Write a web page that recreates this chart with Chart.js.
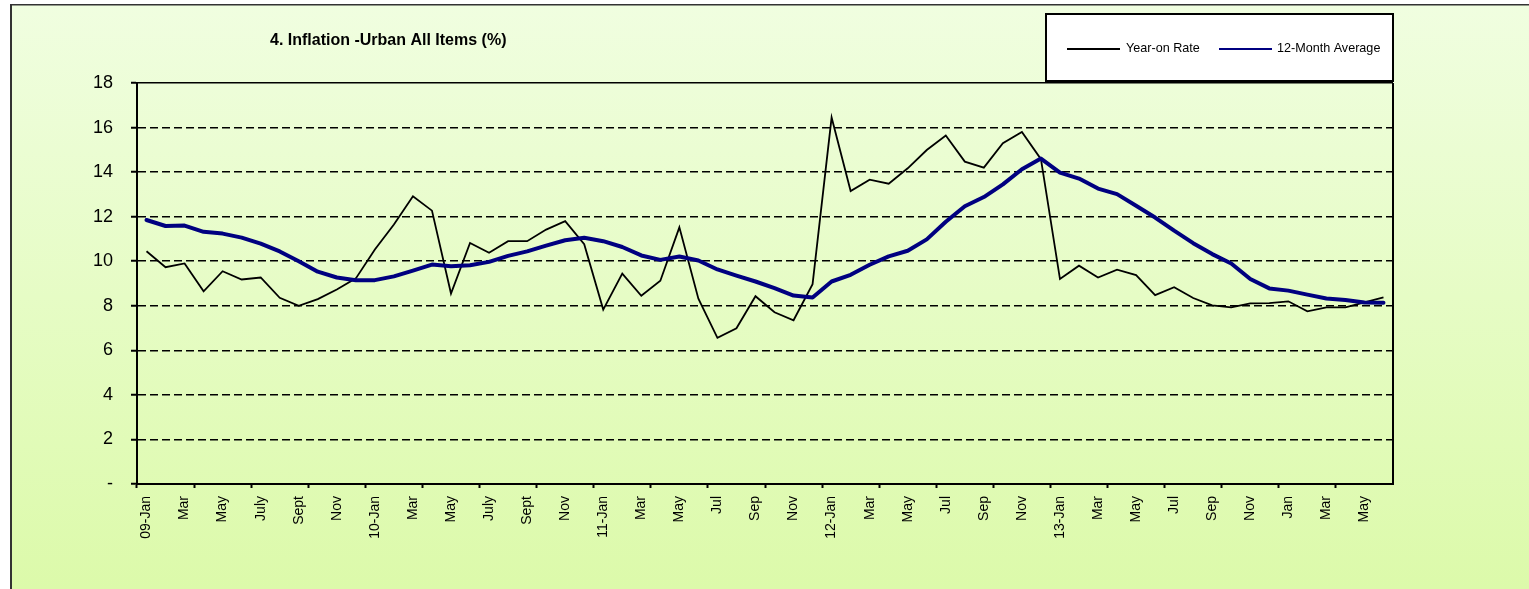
<!DOCTYPE html>
<html>
<head>
<meta charset="utf-8">
<script src="https://cdn.jsdelivr.net/npm/chart.js@4.4.1/dist/chart.umd.min.js"></script>
<style>
html,body{margin:0;padding:0;background:#fff;}
#c{display:block;}
</style>
</head>
<body>
<canvas id="c" width="1529" height="589" style="width:1529px;height:589px"></canvas>
<script>
// ---- data ----
const categories = [
  '09-Jan','Feb','Mar','Apr','May','Jun','July','Aug','Sept','Oct','Nov','Dec',
  '10-Jan','Feb','Mar','Apr','May','Jun','July','Aug','Sept','Oct','Nov','Dec',
  '11-Jan','Feb','Mar','Apr','May','Jun','Jul','Aug','Sep','Oct','Nov','Dec',
  '12-Jan','Feb','Mar','Apr','May','Jun','Jul','Aug','Sep','Oct','Nov','Dec',
  '13-Jan','Feb','Mar','Apr','May','Jun','Jul','Aug','Sep','Oct','Nov','Dec',
  'Jan','Feb','Mar','Apr','May','Jun'
];
const yearOnRate = [
  10.45, 9.73, 9.90, 8.65, 9.55, 9.18, 9.27, 8.36, 8.00, 8.30, 8.73, 9.23,
  10.53, 11.65, 12.92, 12.27, 8.55, 10.82, 10.38, 10.90, 10.90, 11.42, 11.80, 10.76,
  7.83, 9.44, 8.45, 9.12, 11.52, 8.32, 6.56, 6.99, 8.43, 7.71, 7.35, 8.97,
  16.45, 13.15, 13.66, 13.48, 14.17, 14.99, 15.64, 14.47, 14.20, 15.30, 15.80, 14.58,
  9.20, 9.80, 9.27, 9.62, 9.38, 8.48, 8.83, 8.35, 8.02, 7.93, 8.11, 8.12,
  8.20, 7.75, 7.93, 7.93, 8.15, 8.38
];
const twelveMonthAvg = [
  11.85, 11.58, 11.60, 11.32, 11.24, 11.06, 10.79, 10.44, 10.00, 9.53, 9.27, 9.15,
  9.15, 9.32, 9.58, 9.85, 9.77, 9.82, 9.97, 10.24, 10.44, 10.70, 10.94, 11.05,
  10.90, 10.64, 10.26, 10.06, 10.21, 10.03, 9.63, 9.35, 9.09, 8.79, 8.46, 8.37,
  9.09, 9.39, 9.84, 10.22, 10.47, 10.98, 11.77, 12.47, 12.88, 13.45, 14.13, 14.61,
  13.98, 13.71, 13.26, 13.01, 12.49, 11.96, 11.37, 10.81, 10.32, 9.90, 9.20, 8.78,
  8.68, 8.50, 8.33, 8.26, 8.15, 8.14
];
const yTicks = [0, 2, 4, 6, 8, 10, 12, 14, 16, 18];
const titleText = '4. Inflation -Urban All Items (%)';
const seriesNames = ['Year-on Rate', '12-Month Average'];

const FONT = 'Arial, "Liberation Sans", sans-serif';

const framePlugin = {
  id: 'frame',
  beforeDraw(chart) {
    const ctx = chart.ctx;
    ctx.save();
    ctx.fillStyle = '#ffffff';
    ctx.fillRect(0, 0, chart.width, chart.height);
    const g = ctx.createLinearGradient(0, 4, 0, chart.height);
    g.addColorStop(0, '#f0fee0');
    g.addColorStop(1, '#dcfaaa');
    ctx.fillStyle = g;
    ctx.fillRect(10, 4, chart.width - 10, chart.height - 4);
    ctx.fillStyle = '#333333';
    ctx.fillRect(10, 4, 2, chart.height - 4);
    ctx.fillRect(10, 4, chart.width - 10, 1.5);
    ctx.restore();
  },
  afterDraw(chart) {
    const ctx = chart.ctx;
    const a = chart.chartArea;
    ctx.save();
    // right border of plot area
    ctx.strokeStyle = '#000';
    ctx.lineWidth = 2;
    ctx.beginPath();
    ctx.moveTo(a.right, a.top);
    ctx.lineTo(a.right, a.bottom);
    ctx.stroke();
    // title
    ctx.fillStyle = '#000';
    ctx.font = 'bold 16px ' + FONT;
    ctx.textAlign = 'left';
    ctx.textBaseline = 'middle';
    ctx.fillText(titleText, 270, 41);
    // legend box
    ctx.fillStyle = '#ffffff';
    ctx.fillRect(1046, 14, 347, 67);
    ctx.strokeStyle = '#000';
    ctx.lineWidth = 2;
    ctx.strokeRect(1046, 14, 347, 67);
    const ds = chart.data.datasets;
    const items = [[1067, 1120, 1126], [1219, 1272, 1277]];
    ctx.font = '12.6px ' + FONT;
    ctx.textBaseline = 'middle';
    items.forEach((it, i) => {
      ctx.strokeStyle = ds[i].borderColor;
      ctx.lineWidth = 2;
      ctx.beginPath();
      ctx.moveTo(it[0], 49);
      ctx.lineTo(it[1], 49);
      ctx.stroke();
      ctx.fillStyle = '#000';
      ctx.fillText(seriesNames[i], it[2], 49);
    });
    ctx.restore();
  }
};

new Chart(document.getElementById('c'), {
  type: 'line',
  data: {
    labels: categories,
    datasets: [
      { label: seriesNames[0], data: yearOnRate, borderColor: '#000000', borderWidth: 1.8,
        pointRadius: 0, tension: 0, fill: false, order: 2 },
      { label: seriesNames[1], data: twelveMonthAvg, borderColor: '#000080', borderWidth: 4,
        borderJoinStyle: 'round', borderCapStyle: 'round',
        pointRadius: 0, tension: 0, fill: false, order: 1 }
    ]
  },
  options: {
    responsive: false,
    animation: false,
    devicePixelRatio: 1,
    layout: { padding: { left: 0, top: 83, right: 136, bottom: 0 } },
    plugins: { legend: { display: false }, title: { display: false }, tooltip: { enabled: false } },
    scales: {
      x: {
        type: 'category',
        offset: true,
        grid: {
          offset: true,
          drawOnChartArea: false,
          drawTicks: true,
          tickLength: 4,
          tickWidth: 2,
          tickColor: (c) => (c.index % 3 === 0 ? '#000' : 'rgba(0,0,0,0)')
        },
        border: { display: true, color: '#000', width: 2 },
        ticks: {
          autoSkip: false,
          maxRotation: 90,
          minRotation: 90,
          padding: 8,
          color: '#000',
          font: { family: FONT, size: 14 },
          callback: function (v, i) { return i % 2 === 0 ? categories[i] : ''; }
        },
        afterFit: (s) => { s.height = 105; }
      },
      y: {
        min: 0,
        max: 18,
        afterBuildTicks: (s) => { s.ticks = yTicks.map(v => ({ value: v })); },
        grid: {
          color: '#000',
          lineWidth: 1.5,
          drawTicks: true,
          tickLength: 6,
          tickWidth: 2,
          tickColor: '#000'
        },
        border: {
          display: true, color: '#000', width: 2,
          dash: (c) => (c.tick && (c.tick.value === 18 || c.tick.value === 0) ? [] : [8, 4])
        },
        ticks: {
          padding: 18,
          color: '#000',
          font: { family: FONT, size: 18 },
          callback: (v) => (v === 0 ? '-' : String(v))
        },
        afterFit: (s) => { s.width = 137; }
      }
    }
  },
  plugins: [framePlugin]
});
</script>
</body>
</html>
